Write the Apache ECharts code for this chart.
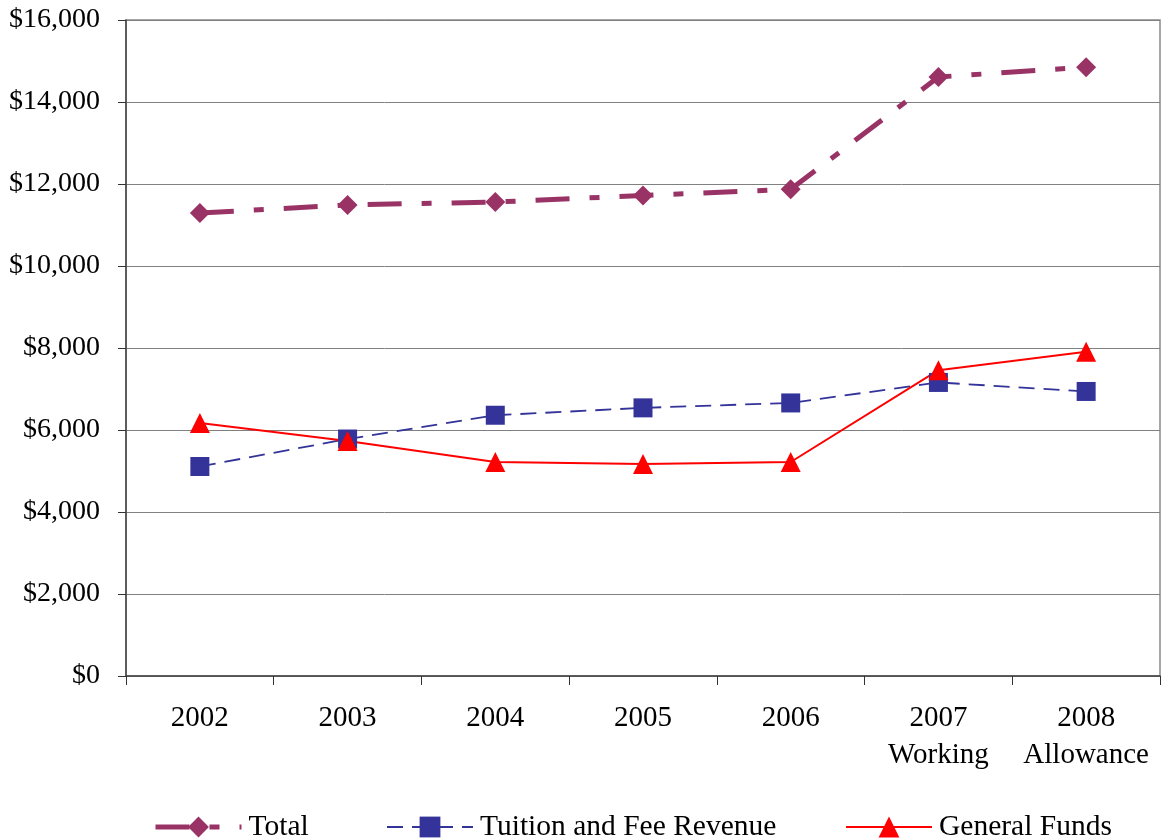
<!DOCTYPE html>
<html><head><meta charset="utf-8">
<script src="https://cdn.jsdelivr.net/npm/echarts@6/dist/echarts.min.js"></script>
<style>html,body{margin:0;padding:0;background:#fff}#c{width:1167px;height:838px}</style>
</head><body><div id="c"></div>
<script>
const categories = ['2002','2003','2004','2005','2006','2007\nWorking','2008\nAllowance'];
const totalValues = [11290, 11490, 11560, 11720, 11870, 14610, 14850];
const tuitionValues = [5110, 5780, 6360, 6540, 6660, 7160, 6940];
const generalValues = [6170, 5730, 5220, 5170, 5220, 7460, 7910];
const yTicks = [0, 2000, 4000, 6000, 8000, 10000, 12000, 14000, 16000];

const font = 'Liberation Serif, Times New Roman, serif';
const fmt = v => '$' + v.toLocaleString('en-US');
const chart = echarts.init(document.getElementById('c'));
const legendBase = {top: 807, itemWidth: 86, itemHeight: 26,
  textStyle: {fontFamily: font, fontSize: 29.5, color: '#000', padding: [0,0,0,2]}, selectedMode: false};
chart.setOption({
  animation: false,
  grid: {left: 126, right: 7, top: 20, bottom: 162, show: true, borderColor: '#8a8a8a', borderWidth: 1.5, backgroundColor: 'transparent'},
  xAxis: {
    type: 'category', data: categories, boundaryGap: true,
    axisLine: {lineStyle: {color: '#444', width: 1.5}},
    axisTick: {show: true, interval: 0, length: 9, lineStyle: {color: '#333'}},
    axisLabel: {interval: 0, fontFamily: font, fontSize: 29, color: '#000', margin: 24, lineHeight: 37}
  },
  yAxis: {
    type: 'value', min: yTicks[0], max: yTicks[yTicks.length-1], interval: 2000,
    axisLine: {show: true, lineStyle: {color: '#444', width: 1.5}},
    axisTick: {show: true, length: 8, lineStyle: {color: '#333'}},
    splitLine: {lineStyle: {color: '#808080', width: 1}},
    axisLabel: {fontFamily: font, fontSize: 28, color: '#000', margin: 26, formatter: fmt}
  },
  legend: [
    Object.assign({}, legendBase, {left: 148, data: ['Total'], lineStyle: {width: 5}}),
    Object.assign({}, legendBase, {left: 381, data: ['Tuition and Fee Revenue'], lineStyle: {width: 2}}),
    Object.assign({}, legendBase, {left: 840, data: ['General Funds'], lineStyle: {width: 2}})
  ],
  series: [
    {name: 'Total', type: 'line', data: totalValues, symbol: 'diamond', symbolSize: 20,
     itemStyle: {color: '#993366'}, lineStyle: {color: '#993366', width: 5, type: [34, 20, 10, 20]}},
    {name: 'Tuition and Fee Revenue', type: 'line', data: tuitionValues, symbol: 'rect', symbolSize: 19,
     itemStyle: {color: '#333399'}, lineStyle: {color: '#333399', width: 1.8, type: [16, 9]}},
    {name: 'General Funds', type: 'line', data: generalValues, symbol: 'triangle', symbolSize: 20,
     itemStyle: {color: '#ff0000'}, lineStyle: {color: '#ff0000', width: 2, type: 'solid'}}
  ]
});
</script></body></html>
